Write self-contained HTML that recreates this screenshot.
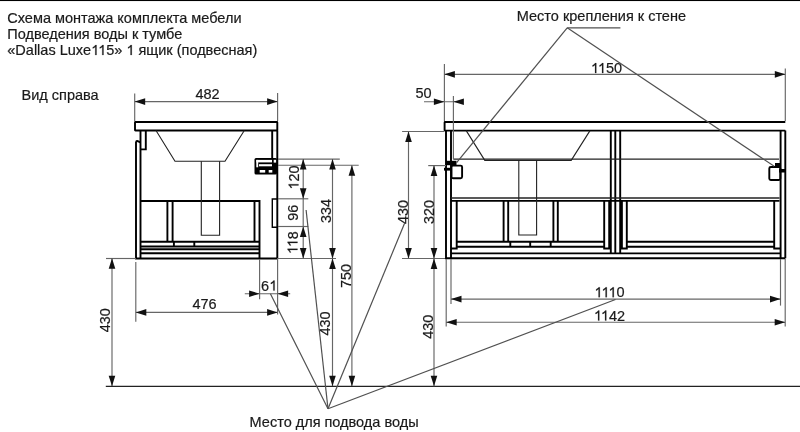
<!DOCTYPE html>
<html><head><meta charset="utf-8">
<style>
html,body{margin:0;padding:0;background:#fff;width:800px;height:432px;overflow:hidden}
svg{position:absolute;left:0;top:0;will-change:transform}
text{font-family:"Liberation Sans",sans-serif;fill:#1a1a1a;stroke:#1a1a1a;stroke-width:0.2}
.k{stroke:#000;stroke-width:1.9;fill:none}
.t{stroke:#222;stroke-width:1.1;fill:none}
.d{stroke:#666;stroke-width:1.15;fill:none}
.l{stroke:#505050;stroke-width:1.2;fill:none}
.a{fill:#111;stroke:none}
.one{fill:transparent;stroke:none}
.g1{fill:#1a1a1a;stroke:#1a1a1a;stroke-width:28}
</style></head><body>
<svg width="800" height="432" viewBox="0 0 800 432">
<rect x="0" y="0" width="800" height="1.05" fill="#000"></rect>
<g>
<text font-size="14.5" x="7.30" y="22.90" text-anchor="start">Схема монтажа комплекта мебели</text>
<text font-size="14.5" x="7.30" y="39.20" text-anchor="start">Подведения воды к тумбе</text>
<text font-size="14.5" x="7.30" y="55.00" text-anchor="start">«Dallas Luxe<tspan class="one">1</tspan><tspan class="one">1</tspan>5» <tspan class="one">1</tspan> ящик (подвесная)</text><path class="g1" d="M584 0 V1141 Q520 1080 416 1019 Q313 958 230 927 V1100 Q358 1160 462 1250 Q566 1340 610 1409 H764 V0 Z" transform="translate(126.38 55.00) scale(0.007080 -0.007080)"></path><path class="g1" d="M584 0 V1141 Q520 1080 416 1019 Q313 958 230 927 V1100 Q358 1160 462 1250 Q566 1340 610 1409 H764 V0 Z" transform="translate(98.13 55.00) scale(0.007080 -0.007080)"></path><path class="g1" d="M584 0 V1141 Q520 1080 416 1019 Q313 958 230 927 V1100 Q358 1160 462 1250 Q566 1340 610 1409 H764 V0 Z" transform="translate(91.13 55.00) scale(0.007080 -0.007080)"></path>
<text font-size="14.5" x="21.60" y="99.90" text-anchor="start">Вид справа</text>
<text font-size="14.5" x="516.80" y="21.00" text-anchor="start">Место крепления к стене</text>
<text font-size="14.5" x="249.60" y="426.80" text-anchor="start">Место для подвода воды</text>
</g>
<g class="k">
<rect x="135" y="122" width="142.3" height="8.5" rx="0.4"></rect>
<path d="M140.5 130.5 V258.5 M136 142 V258.5 H277.3 M136 142 Q136.5 140 139 141.8 L140.5 142.8"></path>
<path d="M140.5 149.4 H145.8 V130.5"></path>
<path d="M272.2 130.5 V158 M277.3 130.5 V258.5"></path>
<path d="M277 199 H272.3 V227.2 H277" stroke-width="1.4"></path>
<path d="M140.5 201 H259.5 V258.5 M254.5 201 V241.7 M167.4 201 V241.7 M172.6 201 V241.7"></path>
<path d="M140.5 241.7 H259.5 M140.5 246.5 H259.5 M140.5 249.2 H259.5 M140.5 253.3 H259.5"></path>
<path d="M173.9 241.7 V246.5 M194.3 241.7 V246.5"></path>
</g>
<g class="t">
<path d="M156 130.5 L175 161.3 H225 L244.3 130.5"></path>
<path d="M201.3 161.3 V235.2 H219.6 V161.3"></path>
</g>
<rect x="254.5" y="158.1" width="22.5" height="16.3" fill="#000" rx="1.5"></rect>
<rect x="256.3" y="159.9" width="15.7" height="2.5" fill="#fff"></rect>
<rect x="256.3" y="159.9" width="1.9" height="7.4" fill="#fff"></rect>
<rect x="259" y="164.2" width="13" height="2.1" fill="#fff"></rect>
<rect x="259.7" y="170" width="5.5" height="2.6" fill="#fff"></rect>
<rect x="268.7" y="170" width="3.6" height="2.6" fill="#fff"></rect>
<rect x="273.7" y="159.8" width="2.4" height="2.8" fill="#fff"></rect>
<line class="d" x1="134.70" y1="93.50" x2="134.70" y2="121.00"></line>
<line class="d" x1="277.60" y1="93.00" x2="277.60" y2="121.00"></line>
<line class="d" x1="134.70" y1="101.60" x2="277.60" y2="101.60"></line>
<polygon class="a" points="134.70,101.60 145.20,98.30 145.20,104.90"></polygon>
<polygon class="a" points="277.60,101.60 267.10,98.30 267.10,104.90"></polygon>
<text font-size="14.5" x="207.50" y="98.60" text-anchor="middle">482</text>
<line class="d" x1="278.00" y1="159.10" x2="339.80" y2="159.10"></line>
<line class="d" x1="278.00" y1="165.20" x2="358.70" y2="165.20"></line>
<line class="d" x1="278.00" y1="198.80" x2="308.30" y2="198.80"></line>
<line class="d" x1="278.00" y1="226.50" x2="308.30" y2="226.50"></line>
<line class="d" x1="106.00" y1="258.50" x2="136.00" y2="258.50"></line>
<line class="d" x1="277.00" y1="258.50" x2="336.00" y2="258.50"></line>
<line class="d" x1="402.00" y1="258.50" x2="446.00" y2="258.50"></line>
<line class="d" x1="303.20" y1="159.10" x2="303.20" y2="258.50"></line>
<polygon class="a" points="303.20,159.10 299.90,169.60 306.50,169.60"></polygon>
<polygon class="a" points="303.20,198.80 299.90,188.30 306.50,188.30"></polygon>
<polygon class="a" points="303.20,226.50 299.90,237.00 306.50,237.00"></polygon>
<polygon class="a" points="303.20,258.50 299.90,248.00 306.50,248.00"></polygon>
<g transform="translate(293.50 177.50) rotate(-90)"><text font-size="14.4" x="0" y="4.992" text-anchor="middle"><tspan class="one">1</tspan>20</text><path class="g1" d="M584 0 V1141 Q520 1080 416 1019 Q313 958 230 927 V1100 Q358 1160 462 1250 Q566 1340 610 1409 H764 V0 Z" transform="translate(-12.02 4.99) scale(0.007031 -0.007031)"></path></g>
<g transform="translate(292.50 212.70) rotate(-90)"><text font-size="14.4" x="0" y="4.992" text-anchor="middle">96</text></g>
<g transform="translate(292.50 242.60) rotate(-90)"><text font-size="14.4" x="0" y="4.992" text-anchor="middle"><tspan class="one">1</tspan><tspan class="one">1</tspan>8</text><path class="g1" d="M584 0 V1141 Q520 1080 416 1019 Q313 958 230 927 V1100 Q358 1160 462 1250 Q566 1340 610 1409 H764 V0 Z" transform="translate(-4.55 4.99) scale(0.007031 -0.007031)"></path><path class="g1" d="M584 0 V1141 Q520 1080 416 1019 Q313 958 230 927 V1100 Q358 1160 462 1250 Q566 1340 610 1409 H764 V0 Z" transform="translate(-11.48 4.99) scale(0.007031 -0.007031)"></path></g>
<line class="d" x1="332.50" y1="159.10" x2="332.50" y2="386.30"></line>
<polygon class="a" points="332.50,159.10 329.20,169.60 335.80,169.60"></polygon>
<polygon class="a" points="332.50,258.50 329.20,248.00 335.80,248.00"></polygon>
<g transform="translate(326.00 210.90) rotate(-90)"><text font-size="14.4" x="0" y="4.992" text-anchor="middle">334</text></g>
<polygon class="a" points="332.50,258.50 329.20,269.00 335.80,269.00"></polygon>
<polygon class="a" points="332.50,386.30 329.20,375.80 335.80,375.80"></polygon>
<g transform="translate(325.40 323.50) rotate(-90)"><text font-size="14.4" x="0" y="4.992" text-anchor="middle">430</text></g>
<line class="d" x1="351.90" y1="165.20" x2="351.90" y2="386.30"></line>
<polygon class="a" points="351.90,165.20 348.60,175.70 355.20,175.70"></polygon>
<polygon class="a" points="351.90,386.30 348.60,375.80 355.20,375.80"></polygon>
<g transform="translate(345.70 276.00) rotate(-90)"><text font-size="14.4" x="0" y="4.992" text-anchor="middle">750</text></g>
<line class="d" x1="112.00" y1="258.30" x2="112.00" y2="386.30"></line>
<polygon class="a" points="112.00,258.30 108.70,268.80 115.30,268.80"></polygon>
<polygon class="a" points="112.00,386.30 108.70,375.80 115.30,375.80"></polygon>
<g transform="translate(105.30 320.20) rotate(-90)"><text font-size="14.4" x="0" y="4.992" text-anchor="middle">430</text></g>
<line class="d" x1="135.80" y1="262.00" x2="135.80" y2="321.80"></line>
<line class="d" x1="277.60" y1="259.00" x2="277.60" y2="314.60"></line>
<line class="d" x1="135.80" y1="312.40" x2="277.60" y2="312.40"></line>
<polygon class="a" points="135.80,312.40 146.30,309.10 146.30,315.70"></polygon>
<polygon class="a" points="277.60,312.40 267.10,309.10 267.10,315.70"></polygon>
<text font-size="14.5" x="204.60" y="309.10" text-anchor="middle">476</text>
<line class="d" x1="259.60" y1="259.00" x2="259.60" y2="299.30"></line>
<line class="d" x1="244.80" y1="293.70" x2="290.20" y2="293.70"></line>
<polygon class="a" points="259.60,293.70 249.10,290.40 249.10,297.00"></polygon>
<polygon class="a" points="277.60,293.70 288.10,290.40 288.10,297.00"></polygon>
<text font-size="14.5" x="269.20" y="290.60" text-anchor="middle">6<tspan class="one">1</tspan></text><path class="g1" d="M584 0 V1141 Q520 1080 416 1019 Q313 958 230 927 V1100 Q358 1160 462 1250 Q566 1340 610 1409 H764 V0 Z" transform="translate(269.20 290.60) scale(0.007080 -0.007080)"></path>
<line x1="105.8" y1="386.3" x2="800" y2="386.3" stroke="#222" stroke-width="1.3"></line>
<g class="k">
<path d="M785.3 122 H445 Q444.6 122 444.6 122.5 V130.2 Q444.6 130.6 445 130.6 H785.3"></path>
<path d="M446 130.6 V258.3 H785.3 M451 130.6 V258.3"></path>
<path d="M780.6 130.6 V258.3 M785.3 130.6 V258.3"></path>
<path d="M610.8 130.6 V253.4 M615.3 130.6 V253.4 M620.2 130.6 V253.4"></path>
<path d="M451 200.9 H779.5"></path>
<path d="M456.7 201 V248.5 H451 M503.6 201 V241.7 M508.2 201 V241.7 M553.4 201 V241.7 M557.8 201 V241.7"></path>
<path d="M604.2 201 V248.5 H609.2 V201 M621.9 201 V248.5 H626.8 V201"></path>
<path d="M774.2 201 V248.5 H780.6"></path>
<path d="M456.7 241.8 H604.2 M456.7 246.7 H604.2 M626.8 241.8 H774.2 M626.8 246.8 H774.2"></path>
<path d="M451 253.4 H780.6"></path>
<path d="M510.3 241.8 V246.7 M530.2 241.8 V246.7 M550.7 241.8 V246.7"></path>
</g>
<g class="t">
<path d="M466.2 130.6 L484.8 160.4 H571.2 L590 130.6"></path>
<path d="M518.8 160.4 V235 H536.6 V160.4"></path>
<path d="M453.3 159.1 H779"></path>
<path d="M451 198 H779.5" stroke-width="1.3"></path>
</g>
<rect x="451.5" y="165.6" width="10.6" height="12.6" rx="1.5" class="k" stroke-width="1.7"></rect>
<rect x="446" y="160.8" width="10.5" height="4.4" fill="#000"></rect>
<rect x="444" y="167.8" width="7" height="2.8" fill="#000"></rect>
<rect x="769.3" y="167" width="11" height="13" rx="1.5" class="k" stroke-width="1.7"></rect>
<rect x="775" y="163" width="6" height="5" fill="#000"></rect>
<rect x="779" y="169" width="6.5" height="3.5" fill="#000"></rect>
<line class="d" x1="444.40" y1="64.00" x2="444.40" y2="121.00"></line>
<line class="d" x1="785.30" y1="68.60" x2="785.30" y2="121.00"></line>
<line class="d" x1="444.40" y1="74.35" x2="785.30" y2="74.35"></line>
<polygon class="a" points="444.40,74.35 454.90,71.05 454.90,77.65"></polygon>
<polygon class="a" points="785.30,74.35 774.80,71.05 774.80,77.65"></polygon>
<text font-size="14.5" x="606.50" y="73.10" text-anchor="middle"><tspan class="one">1</tspan><tspan class="one">1</tspan>50</text><path class="g1" d="M584 0 V1141 Q520 1080 416 1019 Q313 958 230 927 V1100 Q358 1160 462 1250 Q566 1340 610 1409 H764 V0 Z" transform="translate(597.89 73.10) scale(0.007080 -0.007080)"></path><path class="g1" d="M584 0 V1141 Q520 1080 416 1019 Q313 958 230 927 V1100 Q358 1160 462 1250 Q566 1340 610 1409 H764 V0 Z" transform="translate(590.89 73.10) scale(0.007080 -0.007080)"></path>
<line class="d" x1="453.40" y1="96.10" x2="453.40" y2="159.10"></line>
<line class="d" x1="424.00" y1="101.70" x2="463.00" y2="101.70"></line>
<polygon class="a" points="444.40,101.70 433.90,98.40 433.90,105.00"></polygon>
<polygon class="a" points="453.40,101.70 463.90,98.40 463.90,105.00"></polygon>
<text font-size="14.5" x="423.60" y="97.70" text-anchor="middle">50</text>
<line class="d" x1="402.10" y1="131.50" x2="444.00" y2="131.50"></line>
<line class="d" x1="428.20" y1="165.60" x2="446.00" y2="165.60"></line>
<line class="d" x1="408.50" y1="131.50" x2="408.50" y2="258.50"></line>
<polygon class="a" points="408.50,131.50 405.20,142.00 411.80,142.00"></polygon>
<polygon class="a" points="408.50,258.50 405.20,248.00 411.80,248.00"></polygon>
<g transform="translate(402.50 212.00) rotate(-90)"><text font-size="14.4" x="0" y="4.992" text-anchor="middle">430</text></g>
<line class="d" x1="434.00" y1="165.60" x2="434.00" y2="386.30"></line>
<polygon class="a" points="434.00,165.60 430.70,176.10 437.30,176.10"></polygon>
<polygon class="a" points="434.00,258.50 430.70,248.00 437.30,248.00"></polygon>
<g transform="translate(428.50 212.00) rotate(-90)"><text font-size="14.4" x="0" y="4.992" text-anchor="middle">320</text></g>
<polygon class="a" points="434.00,258.50 430.70,269.00 437.30,269.00"></polygon>
<polygon class="a" points="434.00,386.30 430.70,375.80 437.30,375.80"></polygon>
<g transform="translate(428.30 326.80) rotate(-90)"><text font-size="14.4" x="0" y="4.992" text-anchor="middle">430</text></g>
<line class="d" x1="451.00" y1="259.00" x2="451.00" y2="304.00"></line>
<line class="d" x1="780.50" y1="259.00" x2="780.50" y2="305.60"></line>
<line class="d" x1="446.20" y1="259.00" x2="446.20" y2="326.40"></line>
<line class="d" x1="785.20" y1="259.00" x2="785.20" y2="326.60"></line>
<line class="d" x1="451.00" y1="299.10" x2="780.50" y2="299.10"></line>
<polygon class="a" points="451.00,299.10 461.50,295.80 461.50,302.40"></polygon>
<polygon class="a" points="780.50,299.10 770.00,295.80 770.00,302.40"></polygon>
<text font-size="14.5" x="609.50" y="297.20" text-anchor="middle"><tspan class="one">1</tspan><tspan class="one">1</tspan><tspan class="one">1</tspan>0</text><path class="g1" d="M584 0 V1141 Q520 1080 416 1019 Q313 958 230 927 V1100 Q358 1160 462 1250 Q566 1340 610 1409 H764 V0 Z" transform="translate(608.42 297.20) scale(0.007080 -0.007080)"></path><path class="g1" d="M584 0 V1141 Q520 1080 416 1019 Q313 958 230 927 V1100 Q358 1160 462 1250 Q566 1340 610 1409 H764 V0 Z" transform="translate(601.42 297.20) scale(0.007080 -0.007080)"></path><path class="g1" d="M584 0 V1141 Q520 1080 416 1019 Q313 958 230 927 V1100 Q358 1160 462 1250 Q566 1340 610 1409 H764 V0 Z" transform="translate(594.42 297.20) scale(0.007080 -0.007080)"></path>
<line class="d" x1="446.20" y1="322.20" x2="785.20" y2="322.20"></line>
<polygon class="a" points="446.20,322.20 456.70,318.90 456.70,325.50"></polygon>
<polygon class="a" points="785.20,322.20 774.70,318.90 774.70,325.50"></polygon>
<text font-size="14.5" x="609.50" y="320.60" text-anchor="middle"><tspan class="one">1</tspan><tspan class="one">1</tspan>42</text><path class="g1" d="M584 0 V1141 Q520 1080 416 1019 Q313 958 230 927 V1100 Q358 1160 462 1250 Q566 1340 610 1409 H764 V0 Z" transform="translate(600.89 320.60) scale(0.007080 -0.007080)"></path><path class="g1" d="M584 0 V1141 Q520 1080 416 1019 Q313 958 230 927 V1100 Q358 1160 462 1250 Q566 1340 610 1409 H764 V0 Z" transform="translate(593.89 320.60) scale(0.007080 -0.007080)"></path>
<line class="l" x1="567.20" y1="27.80" x2="620.40" y2="27.80"></line>
<line class="l" x1="567.20" y1="27.80" x2="456.60" y2="162.60"></line>
<line class="l" x1="567.20" y1="27.80" x2="774.20" y2="166.30"></line>
<line class="l" x1="328.00" y1="408.75" x2="270.40" y2="293.70"></line>
<line class="l" x1="328.00" y1="408.75" x2="306.10" y2="210.00"></line>
<line class="l" x1="328.00" y1="408.75" x2="404.80" y2="222.80"></line>
<line class="l" x1="328.00" y1="408.75" x2="615.50" y2="299.50"></line>
</svg>
</body></html>
